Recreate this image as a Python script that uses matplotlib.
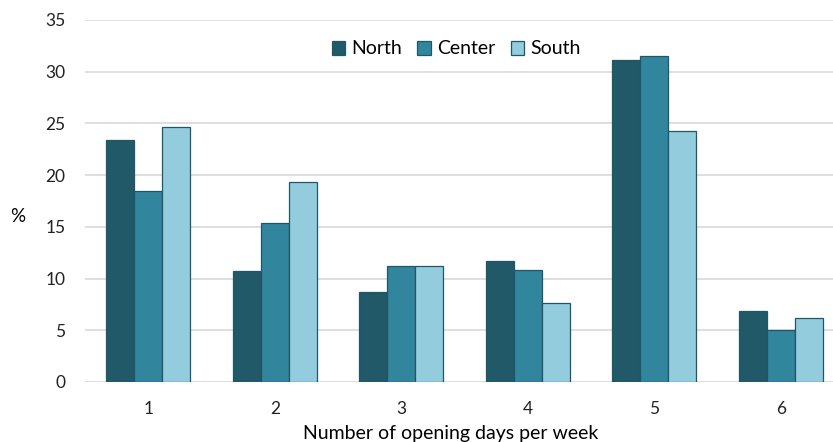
import matplotlib.pyplot as plt
import numpy as np

plt.rcParams['font.family'] = ['Lato', 'DejaVu Sans']

days = ['1', '2', '3', '4', '5', '6']
north = [23.4, 10.7, 8.7, 11.7, 31.1, 6.9]
center = [18.5, 15.4, 11.2, 10.8, 31.5, 5.0]
south = [24.7, 19.3, 11.2, 7.6, 24.3, 6.2]

series = [('North', north, '#215968'),
          ('Center', center, '#31859C'),
          ('South', south, '#93CDDD')]

fig = plt.figure(figsize=(8.33, 4.42), dpi=100)
ax = fig.add_axes([85 / 833, 60 / 442, 748 / 833, 362 / 442])

x = np.arange(1, len(days) + 1)
w = 1 / 4.5
for k, (name, vals, col) in enumerate(series):
    ax.bar(x + (k - 1) * w, vals, width=w, color=col, edgecolor='#1F5766',
           linewidth=0.9, label=name, zorder=3)

ax.set_ylim(0, 35)
ax.set_xlim(0.5, 6.413)
ax.set_yticks(range(0, 36, 5))
ax.set_xticks(x)
ax.set_xticklabels(days)
ax.grid(axis='y', color='#D9D9D9', linewidth=1.2, zorder=0)
for s in ax.spines.values():
    s.set_visible(False)
ax.tick_params(axis='both', length=0, labelsize=12.5, colors='#222222')
ax.tick_params(axis='x', pad=14)
ax.tick_params(axis='y', pad=14)

fig.text(18 / 833, 1 - 217 / 442, '%', fontsize=13.5, ha='center', va='center')
fig.text(451 / 833, 1 - 433 / 442, 'Number of opening days per week',
         fontsize=14, ha='center', va='center')

ax.legend(loc='center', bbox_to_anchor=(456 / 833, 1 - 49 / 442),
          bbox_transform=fig.transFigure, ncol=3, frameon=False,
          fontsize=14, handlelength=0.7, handleheight=0.7,
          handletextpad=0.3, columnspacing=0.8)

fig.savefig('out.png', dpi=100)
